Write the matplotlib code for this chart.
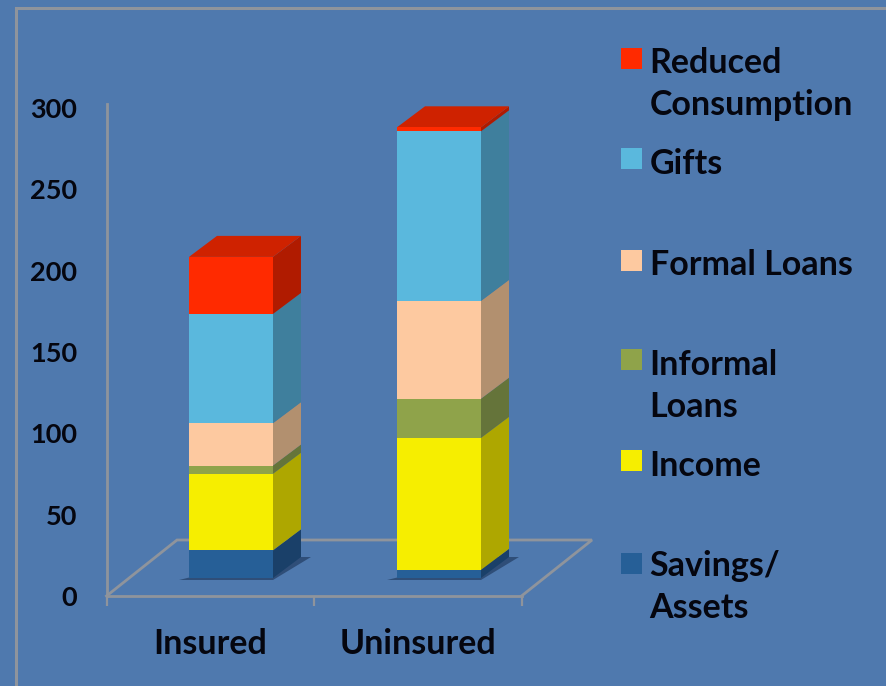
import matplotlib
matplotlib.use("Agg")
import matplotlib.pyplot as plt
from matplotlib.patches import Rectangle, Polygon
from matplotlib.lines import Line2D
import numpy as np

categories = ["Insured", "Uninsured"]
series_names = ["Savings/\nAssets", "Income", "Informal\nLoans", "Formal Loans", "Gifts", "Reduced\nConsumption"]
savings = [17, 5]
income = [47, 81]
informal = [5, 24]
formal = [26, 60]
gifts = [67, 104]
reduced = [35, 2.5]
y_ticks = [0, 50, 100, 150, 200, 250, 300]

series_values = [savings, income, informal, formal, gifts, reduced]
front_colors = ["#265f97", "#f6ee00", "#8fa34a", "#fdc9a0", "#5ab8dd", "#ff2a00"]
side_colors = ["#1a4069", "#aea700", "#65743a", "#b2906f", "#3f7f9d", "#b01b00"]
top_color = "#cf2200"
bg = "#4f79ae"
grey = "#8f949c"
ink = "#05060f"
font = "Lato"

W, H = 886, 686
fig = plt.figure(figsize=(W / 100, H / 100), dpi=100, facecolor=bg)


def rect(l, t, r, b):
    return [l / W, 1 - b / H, (r - l) / W, (b - t) / H]


# slide frame
for xs, ys in [((16, 16), (686, 7.5)), ((16, 886), (7.5, 7.5))]:
    fig.add_artist(Line2D([x / W for x in xs], [1 - y / H for y in ys], color=grey, lw=2.2))

# wall + floor axes
wall = fig.add_axes(rect(106.5, 104, 521.5, 596), facecolor="none")
wall.set_xlim(0, 2)
wall.set_ylim(0, 492 / 1.627)
for s in ["top", "right"]:
    wall.spines[s].set_visible(False)
for s in ["left", "bottom"]:
    wall.spines[s].set_color(grey)
    wall.spines[s].set_linewidth(2.0)
wall.set_yticks(y_ticks)
wall.set_yticklabels([str(t) for t in y_ticks], fontfamily=font, fontweight="bold", fontsize=19.5, color=ink)
wall.tick_params(axis="y", length=0, pad=21)
wall.set_xticks([0, 1, 2])
wall.set_xticklabels(["", "", ""])
wall.tick_params(axis="x", which="major", length=7, width=1.6, color=grey)
wall.set_xticks([0.5, 1.5], minor=True)
wall.set_xticklabels(categories, minor=True, fontfamily=font, fontweight="bold", fontsize=24.5, color=ink)
wall.tick_params(axis="x", which="minor", length=0, pad=23)
# floor edges, in wall units
fx = 2 / 415
fy = 1 / 1.627
wall.plot(np.array([106.5, 177, 592, 521.5]) * fx - 106.5 * fx, (596 - np.array([596, 540, 540, 596])) * fy,
          color=grey, lw=2.0, clip_on=False, solid_joinstyle="miter")

# bars axes: front plane of the stack
SCALE = 1.63
X0, STEP, BASE = 231, 208, 578
ax = fig.add_axes([0, 0, 1, 1], facecolor="none")
ax.set_xlim((0 - X0) / STEP, (W - X0) / STEP)
ax.set_ylim((BASE - H) / SCALE, BASE / SCALE)
ax.axis("off")

width = 84 / STEP
dx, dy = 28 / STEP, 21 / SCALE
xpos = np.arange(len(categories))

# floor shadow
for x in xpos:
    l, r = x - width / 2, x + width / 2
    ax.add_patch(Polygon([(l - 10 / STEP, -2 / SCALE), (r, -2 / SCALE), (r + dx + 10 / STEP, dy), (r, dy)],
                         closed=True, fc="#2f4e78", ec="none", zorder=1))

bottom = np.zeros(len(categories))
for vals, fc, sc in zip(series_values, front_colors, side_colors):
    vals = np.array(vals, dtype=float)
    ax.bar(xpos, vals, width=width, bottom=bottom, color=fc, edgecolor="none", zorder=3)
    for x, b, v in zip(xpos, bottom, vals):
        r = x + width / 2
        ax.add_patch(Polygon([(r, b), (r + dx, b + dy), (r + dx, b + v + dy), (r, b + v)],
                             closed=True, fc=sc, ec="none", zorder=2))
    bottom = bottom + vals
for x, t in zip(xpos, bottom):
    l, r = x - width / 2, x + width / 2
    ax.add_patch(Polygon([(l, t), (r, t), (r + dx, t + dy), (l + dx, t + dy)],
                         closed=True, fc=top_color, ec="none", zorder=2))

# legend
swatch_tops = [553, 450, 349, 250, 148, 48]
text_centers = [587, 466, 386, 265, 164, 84]
for name, fc, st, tc in zip(series_names, front_colors, swatch_tops, text_centers):
    fig.add_artist(Rectangle((621 / W, 1 - (st + 21) / H), 21 / W, 21 / H, transform=fig.transFigure,
                             fc=fc, ec="none"))
    fig.text(649.5 / W, 1 - tc / H, name, fontfamily=font, fontweight="bold", fontsize=24.5, color=ink,
             ha="left", va="center", linespacing=1.36)

fig.savefig("out.png", dpi=100, facecolor=bg)
